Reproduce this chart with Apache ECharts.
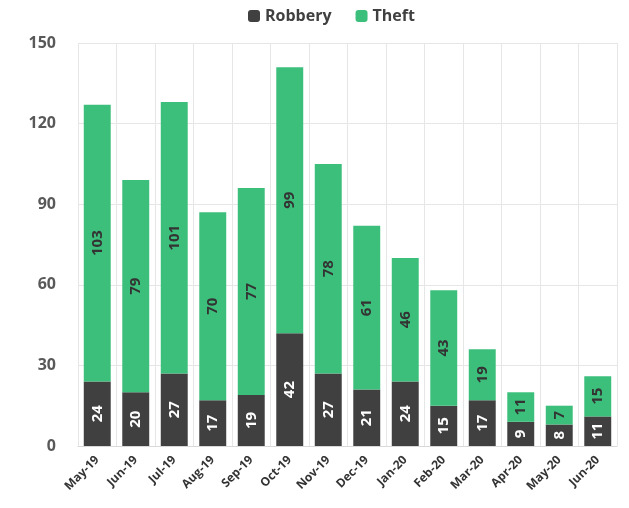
<!DOCTYPE html>
<html>
<head>
<meta charset="utf-8">
<script src="https://cdn.jsdelivr.net/npm/echarts@6/dist/echarts.min.js"></script>
<style>
  html, body { margin: 0; padding: 0; background: #fff; }
  #chart { width: 629px; height: 508px; }
</style>
</head>
<body>
<div id="chart"></div>
<script>
const months = ['May-19', 'Jun-19', 'Jul-19', 'Aug-19', 'Sep-19', 'Oct-19', 'Nov-19',
  'Dec-19', 'Jan-20', 'Feb-20', 'Mar-20', 'Apr-20', 'May-20', 'Jun-20']
const robbery = [24, 20, 27, 17, 19, 42, 27, 21, 24, 15, 17, 9, 8, 11]
const theft = [103, 79, 101, 70, 77, 99, 78, 61, 46, 43, 19, 11, 7, 15]

const font = 'Open Sans'

var chart = echarts.init(document.getElementById('chart'))
chart.setOption({
  animation: false,
  textStyle: { fontFamily: font },
  legend: {
    top: 3,
    left: 243,
    itemWidth: 12,
    itemHeight: 12,
    itemGap: 24,
    textStyle: { fontSize: 16, fontWeight: 'bold', color: '#404040', fontFamily: font }
  },
  grid: { left: 78, right: 12, top: 43, bottom: 62 },
  xAxis: {
    type: 'category',
    data: months,
    axisLine: { show: true, lineStyle: { color: '#d9d9d9' } },
    axisTick: { show: false },
    splitLine: { show: true, lineStyle: { color: '#e6e6e6' } },
    axisLabel: {
      rotate: 45,
      interval: 0,
      fontSize: 12,
      fontWeight: 'bold',
      color: '#333',
      margin: 12
    }
  },
  yAxis: {
    type: 'value',
    min: 0,
    max: 150,
    interval: 30,
    axisLine: { show: false },
    axisTick: { show: false },
    splitLine: { lineStyle: { color: '#e6e6e6' } },
    axisLabel: { fontSize: 16, fontWeight: 'bold', color: '#595959', margin: 22 }
  },
  series: [
    {
      name: 'Robbery',
      type: 'bar',
      stack: 'total',
      data: robbery,
      barWidth: '70%',
      itemStyle: { color: '#404040' },
      label: {
        show: true,
        position: 'inside',
        rotate: 90,
        color: '#fff',
        fontSize: 15,
        fontWeight: 'bold'
      }
    },
    {
      name: 'Theft',
      type: 'bar',
      stack: 'total',
      data: theft,
      barWidth: '70%',
      itemStyle: { color: '#3dbf7c' },
      label: {
        show: true,
        position: 'inside',
        rotate: 90,
        color: '#333',
        fontSize: 15,
        fontWeight: 'bold'
      }
    }
  ]
})
</script>
</body>
</html>
